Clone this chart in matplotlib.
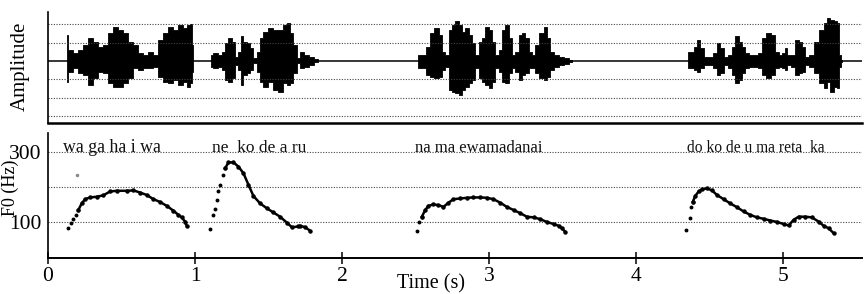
import matplotlib.pyplot as plt

plt.rcParams['font.family'] = ['Liberation Serif', 'DejaVu Serif']

# --- waveform envelope (time s, upper / lower amplitude in grid units) ---
wave_t = [0.127, 0.150, 0.184, 0.218, 0.252, 0.286, 0.320, 0.354, 0.388, 0.422,
          0.456, 0.490, 0.524, 0.558, 0.592, 0.626, 0.660, 0.694, 0.728, 0.762,
          0.796, 0.830, 0.864, 0.898, 0.932, 0.955, 0.977, 0.985,
          1.109, 1.136, 1.170, 1.193, 1.215, 1.238, 1.261, 1.283, 1.306, 1.317,
          1.340, 1.363, 1.385, 1.408, 1.431, 1.454, 1.476, 1.510, 1.544, 1.578,
          1.612, 1.635, 1.658, 1.680, 1.703, 1.726, 1.760, 1.794, 1.828, 1.839,
          2.519, 2.553, 2.587, 2.610, 2.644, 2.667, 2.689, 2.712, 2.735, 2.757,
          2.780, 2.803, 2.825, 2.848, 2.871, 2.893, 2.916, 2.939, 2.961, 2.984,
          3.007, 3.029, 3.052, 3.075, 3.097, 3.120, 3.143, 3.166, 3.188, 3.211,
          3.234, 3.256, 3.279, 3.302, 3.324, 3.358, 3.381, 3.404, 3.426, 3.460,
          3.494, 3.528, 3.562,
          4.351, 4.379, 4.401, 4.424, 4.447, 4.469, 4.503, 4.537, 4.560, 4.583,
          4.605, 4.639, 4.662, 4.685, 4.707, 4.730, 4.753, 4.776, 4.810, 4.844,
          4.866, 4.900, 4.934, 4.957, 4.980, 5.002, 5.018, 5.036, 5.070, 5.093,
          5.116, 5.138, 5.161, 5.195, 5.229, 5.263, 5.286, 5.308, 5.331, 5.354,
          5.372, 5.388, 5.399]
wave_top = [1.42, 0.60, 0.42, 0.60, 0.87, 1.24, 1.05, 0.78, 0.87, 1.51,
            1.82, 1.69, 1.51, 1.05, 0.87, 0.42, 0.33, 0.51, 0.33, 1.15,
            1.51, 1.87, 1.69, 1.96, 1.78, 1.96, 2.00, 0.87,
            0.33, 0.42, 0.33, 0.51, 0.96, 1.24, 1.05, 0.24, 0.51, 1.33,
            1.05, 0.96, 0.69, 0.15, 0.51, 1.24, 1.60, 1.78, 1.69, 1.69,
            1.96, 2.05, 1.51, 0.87, 0.15, 0.51, 0.33, 0.24, 0.11, 0.05,
            0.33, 0.33, 0.78, 1.51, 1.78, 1.42, 0.51, 0.33, 1.69, 1.96,
            2.15, 1.96, 1.60, 1.78, 1.42, 0.96, 0.33, 1.05, 1.24, 1.87,
            1.69, 1.05, 0.33, 0.60, 1.69, 1.96, 1.24, 0.33, 0.51, 1.42,
            1.51, 1.24, 0.51, 0.33, 0.87, 1.51, 1.87, 1.24, 0.51, 0.33,
            0.24, 0.18, 0.05,
            0.51, 0.51, 0.78, 1.15, 0.69, 0.24, 0.24, 0.42, 0.96, 0.69,
            0.24, 0.33, 0.78, 1.33, 1.05, 0.78, 0.42, 0.33, 0.33, 0.42,
            1.24, 1.51, 1.42, 0.51, 0.33, 0.42, 0.69, 0.33, 0.33, 1.15,
            1.05, 0.78, 0.24, 0.33, 1.05, 1.69, 2.05, 2.33, 2.24, 2.15,
            2.05, 0.33, 0.05]
wave_bot = [-1.13, -0.58, -0.40, -0.67, -0.76, -1.31, -0.95, -0.58, -0.67, -1.22,
            -1.40, -1.40, -1.22, -0.95, -0.40, -0.49, -0.40, -0.40, -0.31, -0.85,
            -1.13, -1.22, -1.04, -1.31, -1.13, -1.40, -1.22, -0.58,
            -0.31, -0.40, -0.31, -0.49, -1.04, -1.13, -0.95, -0.22, -0.49, -1.31,
            -0.76, -0.67, -0.49, -0.13, -0.58, -1.13, -1.40, -1.13, -1.58, -1.67,
            -1.22, -1.31, -1.22, -0.67, -0.13, -0.40, -0.31, -0.22, -0.07, -0.05,
            -0.40, -0.40, -0.76, -0.85, -0.95, -0.85, -0.49, -0.31, -1.58, -1.67,
            -1.76, -1.85, -1.58, -1.40, -1.22, -1.04, -0.40, -0.95, -1.13, -1.31,
            -1.49, -1.13, -0.40, -0.58, -1.13, -1.22, -0.67, -0.40, -0.58, -1.04,
            -0.76, -0.67, -0.40, -0.40, -0.67, -0.95, -1.04, -0.85, -0.49, -0.31,
            -0.22, -0.18, -0.05,
            -0.40, -0.40, -0.49, -0.58, -0.40, -0.22, -0.22, -0.40, -0.76, -0.67,
            -0.22, -0.40, -0.76, -1.22, -1.04, -0.67, -0.40, -0.31, -0.31, -0.40,
            -0.76, -0.95, -0.76, -0.40, -0.31, -0.40, -0.49, -0.22, -0.31, -0.76,
            -0.67, -0.58, -0.22, -0.31, -0.67, -1.22, -1.49, -1.13, -1.67, -1.40,
            -1.49, -0.31, -0.05]
# index ranges of the four utterances (flat baseline between them)
wave_segments = [(0, 28), (28, 58), (58, 101), (101, 144)]

# --- F0 contours (time s, Hz) ---
f0_t1 = [0.134, 0.154, 0.172, 0.191, 0.206, 0.229, 0.252, 0.286, 0.331, 0.376,
         0.422, 0.467, 0.535, 0.581, 0.626, 0.671, 0.717, 0.762, 0.807, 0.853,
         0.887, 0.909, 0.932, 0.943]
f0_v1 = [82, 96, 108, 120, 134, 153, 165, 170, 172, 176,
         187, 189, 189, 190, 184, 177, 165, 157, 146, 132,
         120, 113, 101, 89]
f0_t2 = [1.102, 1.125, 1.136, 1.147, 1.159, 1.170, 1.188, 1.204, 1.227, 1.261,
         1.295, 1.329, 1.363, 1.397, 1.442, 1.488, 1.533, 1.578, 1.624, 1.658,
         1.703, 1.714, 1.748, 1.782]
f0_v2 = [79, 120, 136, 163, 187, 206, 234, 253, 270, 270,
         258, 239, 206, 174, 153, 139, 127, 115, 98, 85,
         87, 89, 85, 75]
f0_t3 = [2.508, 2.526, 2.542, 2.565, 2.587, 2.621, 2.655, 2.689, 2.723, 2.757,
         2.803, 2.848, 2.893, 2.939, 2.984, 3.029, 3.075, 3.120, 3.166, 3.211,
         3.256, 3.302, 3.347, 3.392, 3.438, 3.472, 3.494, 3.517]
f0_v3 = [75, 101, 115, 134, 146, 150, 148, 143, 155, 165,
         167, 169, 170, 170, 169, 165, 155, 143, 134, 125,
         115, 113, 108, 100, 94, 89, 82, 72]
f0_t4 = [4.340, 4.363, 4.374, 4.385, 4.401, 4.424, 4.447, 4.481, 4.515, 4.549,
         4.594, 4.639, 4.685, 4.730, 4.776, 4.821, 4.866, 4.912, 4.957, 5.002,
         5.036, 5.070, 5.104, 5.150, 5.195, 5.240, 5.274, 5.308, 5.342]
f0_v4 = [77, 112, 142, 158, 174, 187, 193, 196, 190, 177,
         165, 153, 142, 130, 120, 113, 109, 104, 100, 94,
         90, 106, 115, 115, 113, 101, 89, 82, 68]
# number of sparse leading dots of each contour (drawn without connecting line)
f0_sparse = [5, 8, 3, 4]
stray_t, stray_v = [0.195], [234]

syllables = ['wa ga ha i wa', 'ne  ko de a ru', 'na ma ewamadanai', 'do ko de u ma reta  ka']
syllable_t = [0.102, 1.116, 2.497, 4.347]
syllable_size = [12.8, 12.5, 12, 11.2]

x_ticks = [0, 1, 2, 3, 4, 5]
f0_ticks = [100, 300]

fig = plt.figure(figsize=(8.64, 2.94), dpi=100)
ax_w = fig.add_axes([0.0556, 0.5816, 0.9424, 0.3776])
ax_f = fig.add_axes([0.0556, 0.1224, 0.9424, 0.4252])

XMAX = 5.537
grid_style = dict(color='#444444', lw=0.8, linestyle=(0, (1, 1.4)))

# top: waveform
for lvl in [2, 1, -1, -2, -3]:
    ax_w.axhline(lvl, **grid_style)
ax_w.axhline(0, color='black', lw=1.1)
for a, b in wave_segments:
    ax_w.fill_between(wave_t[a:b], wave_bot[a:b], wave_top[a:b], step='mid',
                      color='black', lw=0.6, edgecolor='black')
ax_w.set_xlim(0, XMAX)
ax_w.set_ylim(-3.37, 2.66)
ax_w.set_xticks([])
ax_w.set_yticks([])
for s in ['top', 'right']:
    ax_w.spines[s].set_visible(False)
ax_w.spines['bottom'].set_linewidth(1.8)
ax_w.spines['left'].set_linewidth(1.2)

# bottom: F0
for lvl in [100, 200, 300]:
    ax_f.axhline(lvl, **grid_style)
for (tt, vv), n in zip([(f0_t1, f0_v1), (f0_t2, f0_v2), (f0_t3, f0_v3), (f0_t4, f0_v4)], f0_sparse):
    ax_f.plot(tt[:n], vv[:n], 'o', color='black', ms=1.8)
    ax_f.plot(tt[n - 1:], vv[n - 1:], '-', color='black', lw=1.8)
    ax_f.plot(tt[n - 1:], vv[n - 1:], 'o', color='black', ms=2.2)
ax_f.plot(stray_t, stray_v, 'o', color='#888888', ms=1.5)

for txt, t, fs in zip(syllables, syllable_t, syllable_size):
    ax_f.text(t, 300, txt, fontsize=fs, ha='left', va='baseline', color='#111111')

ax_f.set_xlim(0, XMAX)
ax_f.set_ylim(-3, 354)
ax_f.set_xticks(x_ticks)
ax_f.set_xticklabels([str(v) for v in x_ticks], fontsize=15.5)
ax_f.set_yticks(f0_ticks)
ax_f.set_yticklabels([str(v) for v in f0_ticks], fontsize=15.5)
ax_f.tick_params(axis='x', direction='inout', length=9, width=1.1, pad=2)
ax_f.tick_params(axis='y', length=0, pad=5)
for s in ['top', 'right']:
    ax_f.spines[s].set_visible(False)
ax_f.spines['bottom'].set_linewidth(1.4)
ax_f.spines['left'].set_linewidth(1.2)

fig.text(0.023, 0.776, 'Amplitude', rotation=90, fontsize=15, ha='center', va='center')
fig.text(0.012, 0.362, 'F0 (Hz)', rotation=90, fontsize=13, ha='center', va='center')
fig.text(0.499, 0.034, 'Time (s)', fontsize=14.5, ha='center', va='center')

fig.savefig('out.png', dpi=100)
